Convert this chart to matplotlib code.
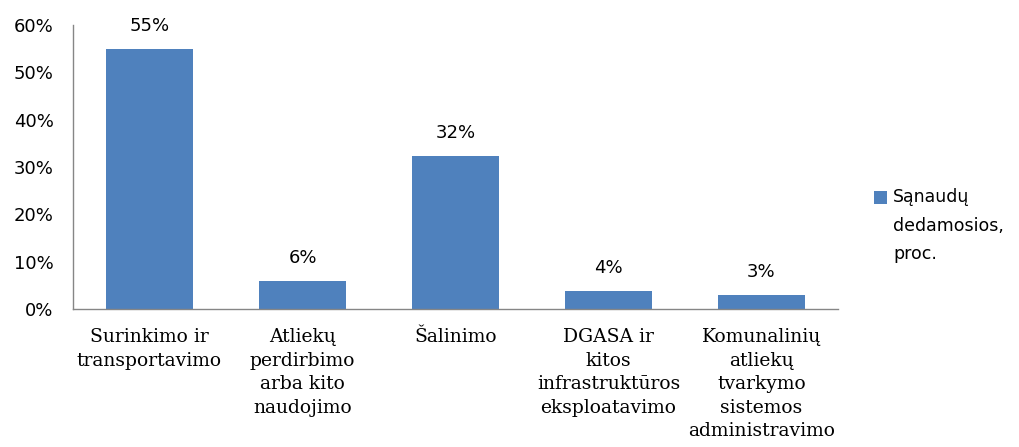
import matplotlib
matplotlib.use("Agg")
import matplotlib.pyplot as plt
from matplotlib.ticker import PercentFormatter

categories = [
    "Surinkimo ir\ntransportavimo",
    "Atliekų\nperdirbimo\narba kito\nnaudojimo",
    "Šalinimo",
    "DGASA ir\nkitos\ninfrastruktūros\neksploatavimo",
    "Komunalinių\natliekų\ntvarkymo\nsistemos\nadministravimo",
]
values = [55, 6, 32.4, 3.9, 3]
labels = ["55%", "6%", "32%", "4%", "3%"]
series_name = "Sąnaudų\ndedamosios,\nproc."
yticks = [0, 10, 20, 30, 40, 50, 60]

bar_color = "#4F81BD"
axis_color = "#868686"

fig = plt.figure(figsize=(10.19, 4.47), dpi=100)
ax = fig.add_axes([73 / 1019, 1 - 309 / 447, (838 - 73) / 1019, (309 - 25) / 447])

x = list(range(len(categories)))
bars = ax.bar(x, values, width=0.57, color=bar_color, label=series_name, zorder=2)

ax.set_xlim(-0.5, len(categories) - 0.5)
ax.set_ylim(0, 60)
ax.set_yticks(yticks)
ax.yaxis.set_major_formatter(PercentFormatter(decimals=0))

for s in ["top", "right"]:
    ax.spines[s].set_visible(False)
for s in ["left", "bottom"]:
    ax.spines[s].set_color(axis_color)
    ax.spines[s].set_linewidth(1.0)

ax.tick_params(axis="y", length=0, pad=14, labelsize=13, colors="#000000")
ax.tick_params(axis="x", length=0, pad=14)
for t in ax.get_yticklabels():
    t.set_fontfamily("DejaVu Sans")

ax.set_xticks(x)
ax.set_xticklabels(categories, fontfamily="DejaVu Serif", fontsize=13.5,
                   linespacing=1.39, va="top", ha="center")

for xi, v, lab in zip(x, values, labels):
    ax.annotate(lab, (xi, v), xytext=(0, 10), textcoords="offset points",
                ha="center", va="bottom", fontsize=13, fontfamily="DejaVu Sans")

fs = 12.5
leg = fig.legend(handles=[bars], labels=[series_name], loc="upper left",
                 bbox_to_anchor=(862 / 1019, 1 - 176 / 447), frameon=False,
                 prop={"family": "DejaVu Sans", "size": fs},
                 handlelength=0.75, handleheight=4.6, handletextpad=0.35,
                 borderpad=0.2)
for t in leg.get_texts():
    t.set_linespacing(1.75)
h = leg.legend_handles[0]
sq = 0.72 * fs
h.set_height(sq)
h.set_width(sq)
h.set_y(h.get_y() + 4.6 * fs - sq - 0.86 * fs)

fig.savefig("out.png", dpi=100)
